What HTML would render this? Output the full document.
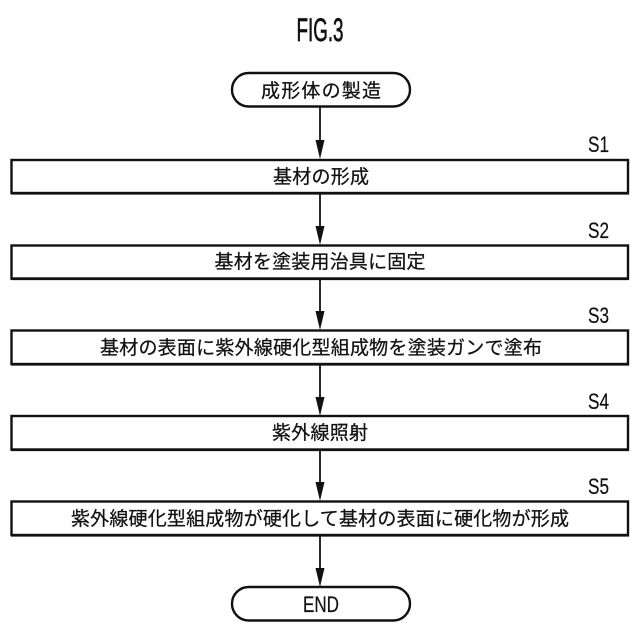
<!DOCTYPE html>
<html lang="ja">
<head>
<meta charset="utf-8">
<style>
html,body{margin:0;padding:0;background:#fff;width:640px;height:640px;overflow:hidden}
svg{display:block}
text{font-family:"Liberation Sans","Noto Sans CJK JP",sans-serif;fill:#111;stroke:#111}
.j{font-size:19px;text-anchor:middle;stroke-width:.25}
.s{font-size:22px;stroke-width:.2}
</style>
</head>
<body>
<svg width="640" height="640" viewBox="0 0 640 640" xmlns="http://www.w3.org/2000/svg">
<text x="320" y="41" font-size="32" text-anchor="middle" stroke-width=".7" textLength="47" lengthAdjust="spacingAndGlyphs">FIG.3</text>

<g fill="#fff" stroke="#111" stroke-width="2.4">
<rect x="232" y="73" width="178" height="33.5" rx="16.7"/>
<rect x="11.5" y="160" width="616.5" height="33"/>
<rect x="11.5" y="245.5" width="616.5" height="33"/>
<rect x="11.5" y="330.5" width="616.5" height="33.5"/>
<rect x="11.5" y="416" width="616.5" height="33.5"/>
<rect x="11.5" y="501.5" width="616.5" height="33.5"/>
<rect x="232" y="587" width="178" height="33.5" rx="16.7"/>
</g>
<g stroke="#111" stroke-width="1.2">
<line x1="11" y1="194" x2="629" y2="194"/>
<line x1="11" y1="279.5" x2="629" y2="279.5"/>
<line x1="11" y1="365" x2="629" y2="365"/>
<line x1="11" y1="450.5" x2="629" y2="450.5"/>
<line x1="11" y1="536" x2="629" y2="536"/>
</g>

<g stroke="#111" stroke-width="1.8">
<line x1="320" y1="107" x2="320" y2="145"/>
<line x1="320" y1="194" x2="320" y2="231"/>
<line x1="320" y1="279" x2="320" y2="316"/>
<line x1="320" y1="365" x2="320" y2="402"/>
<line x1="320" y1="450" x2="320" y2="487"/>
<line x1="320" y1="536" x2="320" y2="573"/>
</g>
<g fill="#111">
<polygon points="315.5,140 324.5,140 320,159"/>
<polygon points="315.5,226 324.5,226 320,245"/>
<polygon points="315.5,311 324.5,311 320,330"/>
<polygon points="315.5,397 324.5,397 320,416"/>
<polygon points="315.5,482 324.5,482 320,501"/>
<polygon points="315.5,568 324.5,568 320,587"/>
</g>

<text class="j" x="321" y="97" textLength="120">成形体の製造</text>
<text class="j" x="321" y="183" textLength="96">基材の形成</text>
<text class="j" x="320" y="268" textLength="211">基材を塗装用治具に固定</text>
<text class="j" x="321" y="354" textLength="442">基材の表面に紫外線硬化型組成物を塗装ガンで塗布</text>
<text class="j" x="320" y="439" textLength="96">紫外線照射</text>
<text class="j" x="320" y="525" textLength="498">紫外線硬化型組成物が硬化して基材の表面に硬化物が形成</text>
<text x="321" y="612" font-size="22" stroke-width=".2" text-anchor="middle" textLength="36" lengthAdjust="spacingAndGlyphs">END</text>

<g class="s">
<text x="588" y="152" textLength="21" lengthAdjust="spacingAndGlyphs">S1</text>
<text x="588" y="238" textLength="21" lengthAdjust="spacingAndGlyphs">S2</text>
<text x="588" y="323" textLength="21" lengthAdjust="spacingAndGlyphs">S3</text>
<text x="588" y="409" textLength="21" lengthAdjust="spacingAndGlyphs">S4</text>
<text x="588" y="494" textLength="21" lengthAdjust="spacingAndGlyphs">S5</text>
</g>
</svg>
</body>
</html>
